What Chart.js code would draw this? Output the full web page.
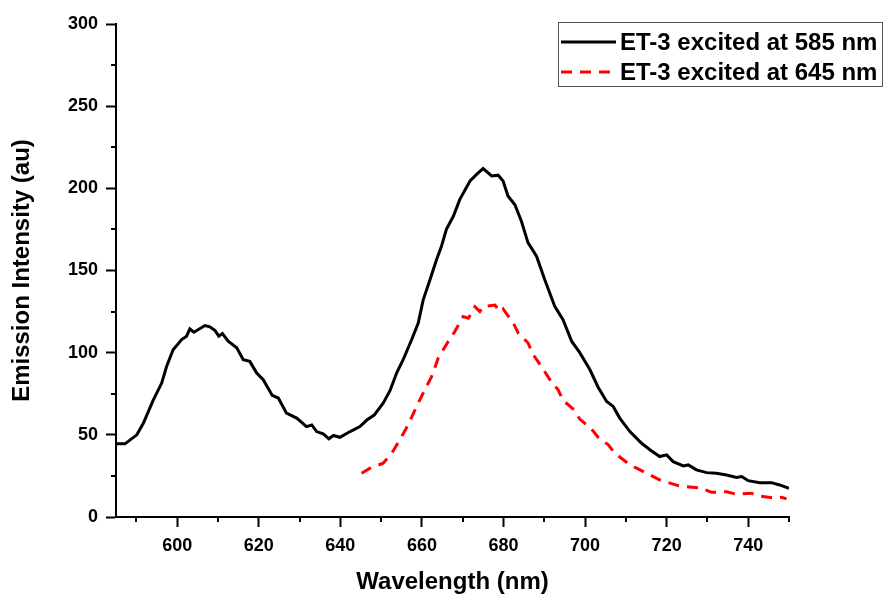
<!DOCTYPE html>
<html>
<head>
<meta charset="utf-8">
<script src="https://cdn.jsdelivr.net/npm/chart.js@4"></script>
<style>
  body { margin: 0; background: #fff; }
  #wrap { width: 884px; height: 597px; }
</style>
</head>
<body>
<div id="wrap"><canvas id="chart" width="884" height="597"></canvas></div>
<script>
// data
const wl585 = [585, 587.2, 590.1, 591.7, 594.1, 596.2, 597.4, 599.0, 601.1, 602.3, 603.1, 604.1, 606.8, 608.0, 609.3, 610.2, 611.1, 612.5, 614.6, 616.2, 617.8, 619.5, 621.1, 623.3, 624.8, 626.8, 629.3, 631.7, 633.0, 634.2, 635.8, 637.2, 638.3, 639.9, 642.4, 644.8, 646.5, 648.3, 650.5, 652.2, 653.8, 655.4, 657.5, 659.1, 660.3, 662.0, 663.6, 664.8, 666.0, 667.7, 669.3, 671.8, 673.4, 675.0, 677.1, 678.7, 679.9, 681.1, 682.8, 684.4, 686.0, 688.1, 690.1, 692.6, 694.6, 696.7, 698.7, 701.2, 703.2, 705.3, 706.9, 708.5, 711.0, 713.8, 715.9, 718.3, 720.0, 721.6, 724.1, 725.3, 727.3, 729.8, 732.2, 734.7, 737.1, 738.4, 740.0, 742.8, 745.7, 747.7, 750];
const int585 = [44.5, 44.5, 50, 57, 71, 81.5, 91.6, 101.8, 108, 110, 114.4, 112.4, 116.5, 115.7, 113.4, 110, 111.6, 107, 103, 95.7, 94.7, 87.6, 83.5, 74, 72.4, 63.2, 60.2, 55, 56, 52, 50.6, 47.6, 49.6, 48.5, 52, 55, 59, 62, 69.3, 77, 87.6, 95.7, 108, 118, 132, 144.5, 156.7, 164.8, 175, 183, 193.3, 204.5, 208.5, 212, 207.5, 208, 204.5, 195.3, 190, 180, 167, 158.7, 144.5, 128, 120, 107, 100, 89.6, 79, 70.3, 67.3, 60.2, 52, 45, 40.9, 36.8, 37.8, 33.7, 31.1, 31.7, 28.7, 27, 26.6, 25.6, 24, 24.6, 22.1, 20.9, 20.9, 19.5, 17.5];

const wl645 = [645.2, 647.3, 650.5, 652.6, 654.6, 656.6, 658.7, 660.7, 662.4, 664.0, 666.5, 668.1, 670.1, 671.4, 673.0, 674.2, 675.0, 677.9, 679.1, 679.9, 682.4, 683.6, 686.0, 687.3, 689.3, 691.4, 693.4, 694.6, 697.3, 698.7, 701.6, 703.2, 705.7, 707.3, 711.0, 713.0, 716.7, 718.3, 722.8, 724.9, 728.6, 731.0, 734.7, 737.1, 740.7, 742.8, 746.9, 748.2, 749.4];
const int645 = [26.6, 29.7, 32.7, 38.8, 47, 56, 67.3, 77.4, 85.5, 96.7, 107, 113, 122, 121, 128, 125, 128, 129, 125, 126.6, 118, 112, 106, 98.8, 91.6, 83.5, 77.4, 71, 65.2, 59.6, 53.5, 48.5, 43.9, 38.8, 31.7, 29.3, 24.6, 22.6, 19.1, 18.5, 17.5, 15, 15.4, 13.8, 14.5, 12.8, 11.4, 12, 11];

const seriesLabels = ['ET-3 excited at 585 nm', 'ET-3 excited at 645 nm'];
const xTicks = [600, 620, 640, 660, 680, 700, 720, 740];
const xMinor = [590, 610, 630, 650, 670, 690, 710, 730, 750];
const yTicks = [0, 50, 100, 150, 200, 250, 300];
const yMinor = [25, 75, 125, 175, 225, 275];

const FONT = "'Liberation Sans', Arial, sans-serif";

function toPoints(xs, ys) {
  return xs.map((x, i) => ({ x: x, y: ys[i] }));
}

// short minor ticks outside the axes
const minorTicks = {
  id: 'minorTicks',
  afterDraw(chart) {
    const ctx = chart.ctx;
    const xs = chart.scales.x, ys = chart.scales.y;
    const a = chart.chartArea;
    ctx.save();
    ctx.strokeStyle = '#000';
    ctx.lineWidth = 2;
    ctx.beginPath();
    xMinor.forEach(v => {
      const px = Math.round(xs.getPixelForValue(v));
      ctx.moveTo(px, a.bottom);
      ctx.lineTo(px, a.bottom + 5);
    });
    yMinor.forEach(v => {
      const py = Math.round(ys.getPixelForValue(v));
      ctx.moveTo(a.left, py);
      ctx.lineTo(a.left - 5, py);
    });
    ctx.stroke();
    ctx.restore();
  }
};

// boxed legend in the top right corner
const boxLegend = {
  id: 'boxLegend',
  afterDraw(chart) {
    const ctx = chart.ctx;
    ctx.save();
    ctx.strokeStyle = '#555';
    ctx.lineWidth = 1;
    ctx.strokeRect(558.5, 22.5, 324, 64);
    ctx.font = 'bold 24px ' + FONT;
    ctx.textBaseline = 'middle';
    ctx.fillStyle = '#000';
    const rows = [42, 72];
    chart.data.datasets.forEach((ds, i) => {
      const y = rows[i];
      ctx.beginPath();
      ctx.strokeStyle = ds.borderColor;
      ctx.lineWidth = ds.borderWidth;
      ctx.setLineDash(ds.borderDash || []);
      ctx.moveTo(561, y);
      ctx.lineTo(616, y);
      ctx.stroke();
      ctx.setLineDash([]);
      ctx.fillText(ds.label, 620, y + 1);
    });
    ctx.restore();
  }
};

new Chart(document.getElementById('chart').getContext('2d'), {
  type: 'line',
  data: {
    datasets: [
      {
        label: seriesLabels[0],
        data: toPoints(wl585, int585),
        borderColor: '#000000',
        borderWidth: 3,
        pointRadius: 0,
        tension: 0
      },
      {
        label: seriesLabels[1],
        data: toPoints(wl645, int645),
        borderColor: '#ff0000',
        borderWidth: 3,
        borderDash: [11, 8],
        pointRadius: 0,
        tension: 0
      }
    ]
  },
  options: {
    responsive: false,
    animation: false,
    layout: { padding: { top: 24, right: 95, left: 0, bottom: 0 } },
    plugins: { legend: { display: false }, tooltip: { enabled: false } },
    scales: {
      x: {
        type: 'linear',
        min: 585,
        max: 750,
        afterBuildTicks: s => { s.ticks = xTicks.map(v => ({ value: v })); },
        afterFit: s => { s.height = 80; },
        border: { display: true, color: '#000', width: 2 },
        grid: { drawOnChartArea: false, drawTicks: true, tickLength: 10, tickColor: '#000', tickWidth: 2 },
        ticks: { color: '#000', padding: 8, maxRotation: 0, font: { family: FONT, size: 18, weight: 'bold' } },
        title: {
          display: true,
          text: 'Wavelength (nm)',
          color: '#000',
          padding: { top: 0, bottom: 0 },
          font: { family: FONT, size: 24, weight: 'bold' }
        }
      },
      y: {
        type: 'linear',
        min: 0,
        max: 300,
        afterBuildTicks: s => { s.ticks = yTicks.map(v => ({ value: v })); },
        afterFit: s => { s.width = 116; },
        border: { display: true, color: '#000', width: 2 },
        grid: { drawOnChartArea: false, drawTicks: true, tickLength: 10, tickColor: '#000', tickWidth: 2 },
        ticks: { color: '#000', padding: 8, font: { family: FONT, size: 18, weight: 'bold' } },
        title: {
          display: true,
          text: 'Emission Intensity (au)',
          color: '#000',
          padding: { top: 8, bottom: 0 },
          font: { family: FONT, size: 24, weight: 'bold' }
        }
      }
    }
  },
  plugins: [minorTicks, boxLegend]
});
</script>
</body>
</html>
